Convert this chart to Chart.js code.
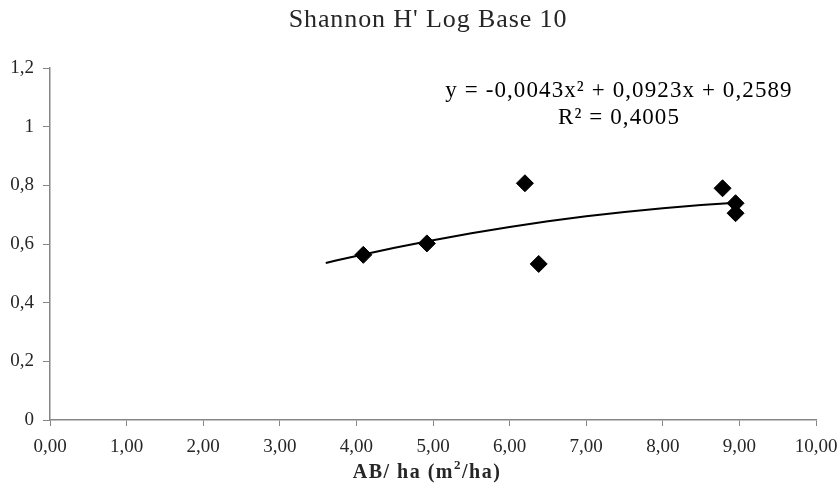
<!DOCTYPE html>
<html>
<head>
<meta charset="utf-8">
<script src="https://cdn.jsdelivr.net/npm/chart.js@4/dist/chart.umd.min.js"></script>
<style>
  html, body { margin: 0; padding: 0; background: #fff; }
  #wrap { width: 840px; height: 490px; position: relative; }
</style>
</head>
<body>
<div id="wrap"><canvas id="c" width="840" height="490"></canvas></div>
<script>
// Observed data (AB/ha vs Shannon H' log10)
const abPerHa = [4.09, 4.92, 6.20, 6.38, 8.78, 8.95, 8.95];
const shannonH = [0.563, 0.602, 0.807, 0.532, 0.790, 0.739, 0.705];

// Polynomial trendline points (as shown in the chart)
const trendX = [3.6, 4.0, 4.5, 5.0, 5.5, 6.0, 6.5, 7.0, 7.5, 8.0, 8.5, 8.95];
const trendY = [0.5355, 0.5593, 0.5872, 0.6129, 0.6365, 0.6579, 0.6772, 0.6943, 0.7093, 0.7221, 0.7328, 0.7406];

const xTicks = [0, 1, 2, 3, 4, 5, 6, 7, 8, 9, 10];
const yTicks = [0, 0.2, 0.4, 0.6, 0.8, 1, 1.2];

const titleText = "Shannon H' Log Base 10";
const eqLine1 = "y = -0,0043x² + 0,0923x + 0,2589";
const eqLine2 = "R² = 0,4005";

const serif = "'Liberation Serif', 'Times New Roman', serif";
const axisGray = '#868686';

const overlay = {
  id: 'overlay',
  afterDraw(chart) {
    const ctx = chart.ctx;
    ctx.save();
    ctx.textBaseline = 'middle';
    ctx.textAlign = 'center';
    ctx.fillStyle = '#262626';
    ctx.font = "26px " + serif;
    ctx.letterSpacing = '0.9px';
    ctx.fillText(titleText, 428, 20);
    ctx.fillStyle = '#000';
    ctx.font = "23px " + serif;
    ctx.letterSpacing = '1.1px';
    ctx.fillText(eqLine1, 619, 91);
    ctx.fillText(eqLine2, 619, 118);
    // x-axis title with superscript
    ctx.fillStyle = '#262626';
    ctx.letterSpacing = '1.5px';
    const big = "bold 20px " + serif, small = "bold 13px " + serif;
    const parts = [["AB/ ha (m", big, 0], ["2", small, -7], ["/ha)", big, 0]];
    let total = 0;
    parts.forEach(p => { ctx.font = p[1]; total += ctx.measureText(p[0]).width; });
    let x = 427 - total / 2;
    ctx.textAlign = 'left';
    parts.forEach(p => {
      ctx.font = p[1];
      ctx.fillText(p[0], x, 473 + p[2]);
      x += ctx.measureText(p[0]).width;
    });
    ctx.restore();
  }
};

new Chart(document.getElementById('c'), {
  type: 'scatter',
  data: {
    datasets: [
      {
        label: 'Trend',
        type: 'line',
        data: trendX.map((x, i) => ({ x: x, y: trendY[i] })),
        borderColor: '#000',
        borderWidth: 2,
        pointRadius: 0,
        fill: false,
        tension: 0.4,
        cubicInterpolationMode: 'monotone',
        order: 2
      },
      {
        label: "Shannon H'",
        data: abPerHa.map((x, i) => ({ x: x, y: shannonH[i] })),
        pointStyle: 'rectRot',
        pointRadius: 8.5,
        pointHoverRadius: 8.5,
        backgroundColor: '#000',
        borderColor: '#000',
        borderWidth: 1,
        order: 1
      }
    ]
  },
  plugins: [overlay],
  options: {
    responsive: false,
    animation: false,
    events: [],
    layout: { padding: { top: 68, right: 24, left: 0, bottom: 0 } },
    plugins: {
      legend: { display: false },
      title: { display: false },
      tooltip: { enabled: false }
    },
    scales: {
      x: {
        type: 'linear',
        min: 0,
        max: 10,
        afterBuildTicks(axis) { axis.ticks = xTicks.map(v => ({ value: v })); },
        afterFit(axis) { axis.height = 70; axis.paddingLeft = 0; axis.paddingRight = 0; },
        grid: {
          display: true,
          drawOnChartArea: false,
          drawTicks: true,
          tickLength: 6,
          color: axisGray,
          lineWidth: 1
        },
        border: { display: true, color: axisGray, width: 1.5 },
        ticks: {
          padding: 10,
          color: '#262626',
          font: { family: serif, size: 19 },
          maxRotation: 0,
          callback: v => v.toFixed(2).replace('.', ',')
        }
      },
      y: {
        type: 'linear',
        min: 0,
        max: 1.2,
        afterBuildTicks(axis) { axis.ticks = yTicks.map(v => ({ value: v })); },
        afterFit(axis) { axis.width = 50; axis.paddingTop = 0; axis.paddingBottom = 0; },
        grid: {
          display: true,
          drawOnChartArea: false,
          drawTicks: true,
          tickLength: 7,
          color: axisGray,
          lineWidth: 1
        },
        border: { display: true, color: axisGray, width: 1.5 },
        ticks: {
          padding: 9,
          color: '#262626',
          font: { family: serif, size: 19 },
          callback: v => String(Math.round(v * 10) / 10).replace('.', ',')
        }
      }
    }
  }
});
</script>
</body>
</html>
